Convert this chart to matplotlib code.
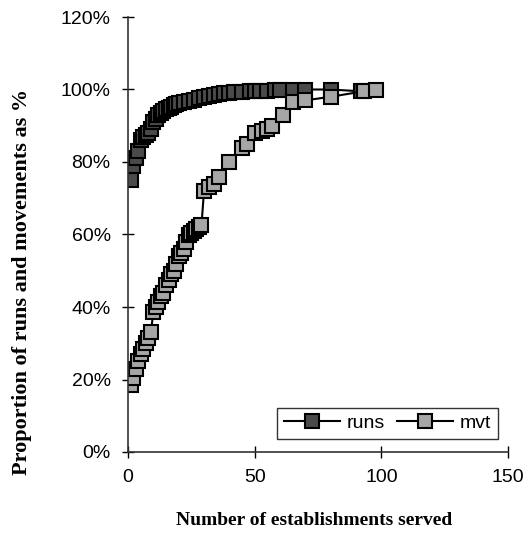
import matplotlib
matplotlib.use("Agg")
from matplotlib import pyplot as plt
from matplotlib.ticker import FuncFormatter, MultipleLocator

# Cumulative share of runs (dark squares)
runs_x = [1, 2, 3, 4, 5, 6, 7, 8, 9, 10, 11, 12, 13, 14, 15, 16, 17, 18, 19, 20,
          22, 24, 26, 28, 30, 32, 34, 36, 38, 40, 42, 45, 48, 50, 52, 55, 58, 60,
          65, 70, 80, 92]
runs_y = [0.75, 0.79, 0.81, 0.83, 0.86, 0.87, 0.875, 0.88, 0.89, 0.91, 0.92,
          0.93, 0.935, 0.94, 0.945, 0.95, 0.953, 0.956, 0.96, 0.962,
          0.965, 0.968, 0.972, 0.976, 0.98, 0.983, 0.985, 0.987, 0.989, 0.991,
          0.992, 0.994, 0.995, 0.996, 0.997, 0.997, 0.998, 0.998,
          0.999, 1.0, 1.0, 0.995]

# Cumulative share of movements (light squares)
mvt_x = [1, 2, 3, 4, 5, 6, 7, 8, 9, 10, 11, 12, 13, 14, 15, 16, 17, 18, 19, 20,
         21, 22, 23, 24, 25, 26, 27, 28, 29, 30, 32, 34, 36, 40, 45, 47,
         50, 53, 55, 57, 61, 65, 70, 80, 93, 98]
mvt_y = [0.185, 0.205, 0.23, 0.25, 0.27, 0.285, 0.30, 0.315, 0.33, 0.385, 0.40,
         0.415, 0.43, 0.44, 0.46, 0.475, 0.49, 0.50, 0.52, 0.54,
         0.55, 0.56, 0.58, 0.60, 0.605, 0.61, 0.615, 0.62, 0.625, 0.72,
         0.73, 0.74, 0.76, 0.80, 0.84, 0.85,
         0.88, 0.885, 0.89, 0.90, 0.93, 0.965, 0.97, 0.98, 0.995, 1.0]

fig = plt.figure(figsize=(5.28, 5.33), dpi=100)
# plot area: x 128..508 px, y 17..452 px
ax = fig.add_axes([128 / 528, 1 - 452 / 533, 380 / 528, 435 / 533])

ax.plot(runs_x, runs_y, color='black', lw=1.5, marker='s', markersize=9.5,
        markerfacecolor='#4a4a4a', markeredgecolor='black', markeredgewidth=1.5,
        label='runs')
ax.plot(mvt_x, mvt_y, color='black', lw=1.5, marker='s', markersize=9.5,
        markerfacecolor='#a6a6a6', markeredgecolor='black', markeredgewidth=1.5,
        label='mvt')

ax.set_xlim(0, 150)
ax.set_ylim(0, 1.2)
ax.xaxis.set_major_locator(MultipleLocator(50))
ax.yaxis.set_major_locator(MultipleLocator(0.2))
ax.yaxis.set_major_formatter(FuncFormatter(lambda v, p: f"{v * 100:.0f}%"))

for side in ['top', 'right']:
    ax.spines[side].set_visible(False)
for side in ['left', 'bottom']:
    ax.spines[side].set_linewidth(1.2)
    ax.spines[side].set_color('#333333')
ax.tick_params(direction='inout', length=9, width=1, labelsize=14, pad=8)
for t in ax.get_xticklabels() + ax.get_yticklabels():
    t.set_fontfamily('Liberation Sans')

ax.set_xlabel('Number of establishments served', fontfamily='Liberation Serif',
              fontweight='bold', fontsize=14)
ax.xaxis.set_label_coords(0.49, -0.137)
ax.set_ylabel('Proportion of runs and movements as %', fontfamily='Liberation Serif',
              fontweight='bold', fontsize=16)
ax.yaxis.set_label_coords(-0.253, 0.39)

leg = ax.legend(loc='lower right', ncol=2, frameon=True, fancybox=False,
                edgecolor='black', handlelength=2.9,
                columnspacing=0.6, handletextpad=0.35, borderpad=0.35,
                borderaxespad=0.0, bbox_to_anchor=(0.974, 0.03),
                prop={'family': 'Liberation Sans', 'size': 14})
leg.get_frame().set_linewidth(1.0)

fig.savefig('out.png', dpi=100)
